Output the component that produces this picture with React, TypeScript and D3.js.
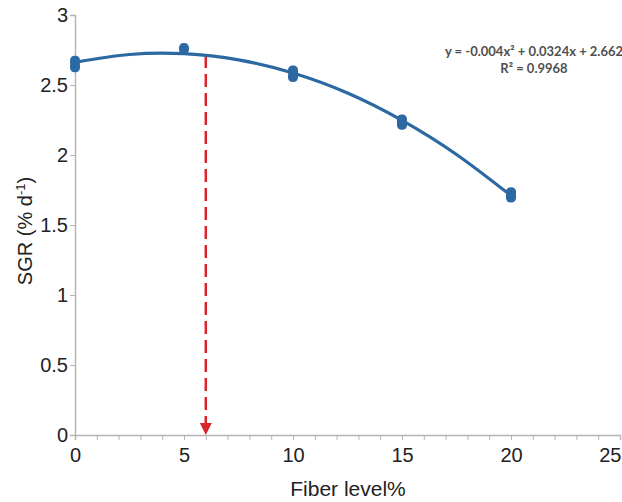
import React, { useEffect, useRef } from "react";
import * as d3 from "d3";

const width = 622;
const height = 502;
const margin = { top: 15, right: 2, bottom: 66, left: 75 };

// observed SGR replicates
const fiberLevels = [0, 0, 5, 10, 10, 15, 15, 20, 20];
const sgrValues = [2.63, 2.67, 2.76, 2.56, 2.6, 2.22, 2.25, 1.7, 1.73];

// trendline values
const trendX = [0, 2.5, 5, 7.5, 10, 12.5, 15, 17.5, 20];
const trendY = [2.662, 2.718, 2.724, 2.68, 2.586, 2.443, 2.248, 2.004, 1.71];

const yTicks = [0, 0.5, 1, 1.5, 2, 2.5, 3];
const xTicks = [0, 5, 10, 15, 20, 25];
const optimumLevel = 6.0;

const equationLines = ["y = -0.004x² + 0.0324x + 2.662", "R² = 0.9968"];

const font = "'Liberation Sans', Arial, sans-serif";

const App = () => {
  const xAxisRef = useRef<SVGGElement>(null);
  const yAxisRef = useRef<SVGGElement>(null);

  const x = d3.scaleLinear().domain([0, 25]).range([margin.left, width - margin.right]);
  const y = d3.scaleLinear().domain([0, 3]).range([height - margin.bottom - 1, margin.top]);

  useEffect(() => {
    const xAxis = d3
      .axisBottom(x)
      .tickValues(d3.range(0, 26, 1))
      .tickSize(5)
      .tickFormat((d) => (xTicks.includes(+d) ? `${d}` : ""));
    const gx = d3.select(xAxisRef.current!);
    gx.call(xAxis);
    gx.select(".domain").attr("stroke", "#b5b5b5").attr("stroke-width", 1.5);
    gx.selectAll(".tick line").attr("stroke", "#b5b5b5");
    gx.selectAll<SVGTextElement, number>(".tick text")
      .attr("fill", "#222")
      .attr("font-size", 20)
      .attr("font-family", font)
      .attr("dy", "0.95em")
      .filter((d) => d === 25)
      .attr("text-anchor", "end")
      .attr("x", 1);

    const yAxis = d3.axisLeft(y).tickValues(yTicks).tickSize(5).tickFormat((d) => `${d}`);
    const gy = d3.select(yAxisRef.current!);
    gy.call(yAxis);
    gy.select(".domain").attr("stroke", "#b5b5b5").attr("stroke-width", 1.5);
    gy.selectAll(".tick line").attr("stroke", "#b5b5b5");
    gy.selectAll(".tick text")
      .attr("fill", "#222")
      .attr("font-size", 20)
      .attr("font-family", font)
      .attr("x", -7);
  }, []);

  const line = d3
    .line<number>()
    .x((_, i) => x(trendX[i]))
    .y((d) => y(d))
    .curve(d3.curveNatural);

  const arrowTop = y(2.715);
  const arrowBottom = y(0);

  return (
    <svg width={width} height={height} style={{ position: "absolute", left: 0, top: 0 }}>
      <rect width={width} height={height} fill="#fff" />
      <g ref={xAxisRef} transform={`translate(0, ${y(0)})`} />
      <g ref={yAxisRef} transform={`translate(${x(0)}, 0)`} />

      <line
        x1={x(optimumLevel)}
        x2={x(optimumLevel)}
        y1={arrowTop}
        y2={arrowBottom - 10}
        stroke="#d7252b"
        strokeWidth={2.5}
        strokeDasharray="13 6"
      />
      <path
        d={`M${x(optimumLevel) - 6},${arrowBottom - 12} L${x(optimumLevel) + 6},${arrowBottom - 12} L${x(optimumLevel)},${arrowBottom} Z`}
        fill="#d7252b"
      />

      <path d={line(trendY) ?? ""} fill="none" stroke="#2c69a3" strokeWidth={3.2} />
      {sgrValues.map((v, i) => (
        <rect
          key={i}
          x={x(fiberLevels[i]) - 5}
          y={y(v) - 5.5}
          width={10}
          height={11}
          rx={4.5}
          fill="#2c69a3"
        />
      ))}

      {equationLines.map((t, i) => (
        <text
          key={i}
          x={534}
          y={56 + i * 17}
          textAnchor="middle"
          fontFamily="Lato, 'Open Sans', sans-serif"
          fontWeight="bold"
          fontSize={13}
          fill="#505050"
        >
          {t}
        </text>
      ))}

      <text
        x={348}
        y={496}
        textAnchor="middle"
        fontFamily={font}
        fontSize={21}
        fill="#222"
      >
        Fiber level%
      </text>
      <text
        transform={`translate(32, 231) rotate(-90)`}
        textAnchor="middle"
        fontFamily={font}
        fontSize={20}
        fill="#222"
      >
        SGR (% d<tspan dy={-7} fontSize={13}>-1</tspan>
        <tspan dy={7}>)</tspan>
      </text>
    </svg>
  );
};

export default App;
